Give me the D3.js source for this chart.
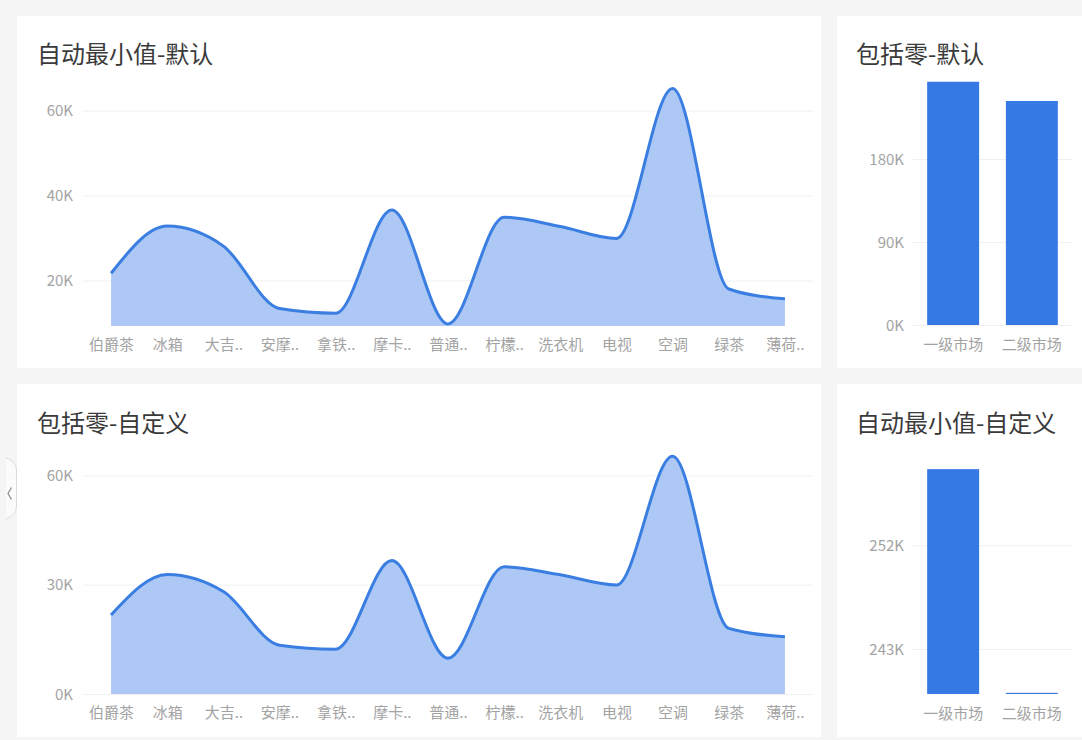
<!DOCTYPE html>
<html>
<head>
<meta charset="utf-8">
<script src="https://cdn.jsdelivr.net/npm/d3@7"></script>
<style>
  html, body { margin: 0; padding: 0; background: #f5f5f5; }
  svg { display: block; }
  text { font-family: "Noto Sans CJK SC", "Noto Sans", sans-serif; }
</style>
</head>
<body>
<svg id="chart" width="1082" height="740"></svg>
<script>
// ---- data ----
const categories = ["伯爵茶","冰箱","大吉..","安摩..","拿铁..","摩卡..","普通..","柠檬..","洗衣机","电视","空调","绿茶","薄荷.."];
const salesValues = [21700, 32800, 28100, 13400, 12300, 36600, 9800, 34900, 32700, 29900, 65200, 18000, 15700];
const autoMinDomain = [9300, 65300];
const zeroDomain = [0, 65300];
const autoMinTicks = [20000, 40000, 60000];
const zeroTicks = [0, 30000, 60000];

const markets = ["一级市场","二级市场"];
const marketValuesDefault = [263800, 242900];
const marketValuesCustom = [258600, 239200];
const barZeroDomain = [0, 270000];
const barZeroTicks = [0, 90000, 180000];
const barAutoDomain = [239100, 260000];
const barAutoTicks = [243000, 252000];

const titles = ["自动最小值-默认", "包括零-默认", "包括零-自定义", "自动最小值-自定义"];

// ---- styles ----
const lineColor = "#3a7ee2";
const areaColor = "#adc8f4";
const barColor = "#3679e4";
const gridColor = "#f0f0f0";
const tickColor = "#a3a3a3";
const titleColor = "#3a3a3a";
const fmtK = d => (d / 1000) + "K";

const svg = d3.select("#chart");

// panels
const panels = [
  {x: 17, y: 16, w: 804, h: 352},
  {x: 837, y: 16, w: 245, h: 352},
  {x: 17, y: 384, w: 804, h: 353},
  {x: 837, y: 384, w: 245, h: 353}
];
svg.selectAll("rect.panel").data(panels).join("rect")
  .attr("class", "panel")
  .attr("x", d => d.x).attr("y", d => d.y)
  .attr("width", d => d.w).attr("height", d => d.h)
  .attr("fill", "#ffffff");

// titles
const titlePos = [[37, 52], [856, 52], [37, 421], [856, 421]];
svg.selectAll("text.title").data(titles).join("text")
  .attr("class", "title")
  .attr("x", (d, i) => titlePos[i][0])
  .attr("y", (d, i) => titlePos[i][1])
  .attr("dominant-baseline", "central")
  .attr("font-size", 24)
  .attr("fill", titleColor)
  .text(d => d);

function styleAxis(g) {
  g.select(".domain").remove();
  g.selectAll(".tick line").attr("stroke", gridColor).attr("stroke-width", 1);
  g.selectAll(".tick text").attr("fill", tickColor).attr("font-size", 15)
    .attr("font-family", '"Noto Sans CJK SC", "Noto Sans", sans-serif');
}

function areaChart(top, bottom, domain, ticks) {
  const x = d3.scalePoint().domain(categories).range([83, 813]).padding(0.5);
  const y = d3.scaleLinear().domain(domain).range([bottom, top]);

  const gy = svg.append("g").attr("transform", "translate(83,0)")
    .call(d3.axisLeft(y).tickValues(ticks).tickFormat(fmtK).tickSize(-730).tickPadding(10));
  styleAxis(gy);
  gy.selectAll(".tick text").attr("dy", "0.35em");

  const data = categories.map((c, i) => ({c, v: salesValues[i]}));
  const area = d3.area().x(d => x(d.c)).y0(y(domain[0])).y1(d => y(d.v)).curve(d3.curveMonotoneX);
  const line = d3.line().x(d => x(d.c)).y(d => y(d.v)).curve(d3.curveMonotoneX);
  svg.append("path").datum(data).attr("d", area).attr("fill", areaColor);
  svg.append("path").datum(data).attr("d", line).attr("fill", "none")
    .attr("stroke", lineColor).attr("stroke-width", 3).attr("stroke-linejoin", "round");

  const gx = svg.append("g").attr("transform", `translate(0,${bottom})`)
    .call(d3.axisBottom(x).tickSize(0));
  styleAxis(gx);
  gx.selectAll(".tick text").attr("y", 19).attr("dy", "0.35em");
}

function barChart(top, bottom, domain, ticks, values) {
  const x = d3.scaleBand().domain(markets).range([913, 1072]).paddingInner(0.34).paddingOuter(0.18);
  const y = d3.scaleLinear().domain(domain).range([bottom, top]);

  const gy = svg.append("g").attr("transform", "translate(913,0)")
    .call(d3.axisLeft(y).tickValues(ticks).tickFormat(fmtK).tickSize(-159).tickPadding(9));
  styleAxis(gy);
  gy.selectAll(".tick text").attr("dy", "0.35em");

  svg.append("g").selectAll("rect").data(markets).join("rect")
    .attr("x", d => x(d))
    .attr("width", x.bandwidth())
    .attr("y", (d, i) => Math.min(y(values[i]), y(domain[0]) - 1))
    .attr("height", (d, i) => Math.max(1, y(domain[0]) - y(values[i])))
    .attr("fill", barColor);

  const gx = svg.append("g").attr("transform", `translate(0,${bottom})`)
    .call(d3.axisBottom(x).tickSize(0));
  styleAxis(gx);
  gx.selectAll(".tick text").attr("y", 20).attr("dy", "0.35em");
}

areaChart(88, 326, autoMinDomain, autoMinTicks);
barChart(76, 325, barZeroDomain, barZeroTicks, marketValuesDefault);
areaChart(456, 694, zeroDomain, zeroTicks);
barChart(453, 694, barAutoDomain, barAutoTicks, marketValuesCustom);

// side collapse tab
svg.append("path")
  .attr("d", "M6,458 Q16,461 16.5,470 L16.5,507 Q16,515 6,519")
  .attr("fill", "#fbfbfb").attr("stroke", "#dcdcdc").attr("stroke-width", 1);
svg.append("path")
  .attr("d", "M11.5,487.5 L8,493.5 L11.5,499.5")
  .attr("fill", "none").attr("stroke", "#8a8a8a").attr("stroke-width", 1.2);
</script>
</body>
</html>
